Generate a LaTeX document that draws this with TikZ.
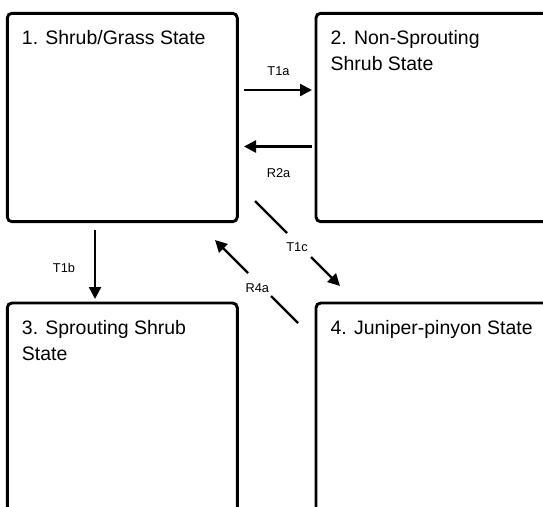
\documentclass[tikz,border=0pt]{standalone}
\usepackage{fontspec}
\setmainfont{Liberation Sans}
\usetikzlibrary{arrows.meta}
\begin{document}
\begin{tikzpicture}[x=0.75pt,y=-0.75pt,
  statebox/.style={draw=black, line width=2.2pt, rounded corners=3.5pt, anchor=north west, inner sep=0pt, outer sep=0pt},
  statetext/.style={anchor=base west, inner sep=0pt, align=left, font=\fontsize{14.6}{19.5}\selectfont},
  arr/.style={line width=1.8pt, -{Triangle[length=9pt,width=9pt]}},
  seg/.style={line width=1.8pt},
  lbl/.style={font=\fontsize{9.6}{11}\selectfont, inner sep=0pt}]
\useasboundingbox (0,0) rectangle (543,507);
\clip (0,0) rectangle (543,507);
% state boxes
\node[statebox, minimum width=172.5pt, minimum height=156.3pt] (b1) at (7.3,13.3) {};
\node[statebox, minimum width=183pt, minimum height=156.3pt] (b2) at (316,13.3) {};
\node[statebox, minimum width=172.5pt, minimum height=170pt] (b3) at (7.3,303) {};
\node[statebox, minimum width=183pt, minimum height=170pt] (b4) at (316,303) {};
% state titles (base anchor = last line)
\node[statetext] (s1) at (21.7,44.3) {1. Shrub/Grass State};
\node[statetext] (s2) at (330.4,70.3) {2. Non-Sprouting\\Shrub State};
\node[statetext] (s3) at (21.7,360) {3. Sprouting Shrub\\State};
\node[statetext] (s4) at (330.4,334) {4. Juniper-pinyon State};
% connector end points
\coordinate (t1as) at (244,90);   \coordinate (t1ae) at (312,90);
\coordinate (r2as) at (312,146.5); \coordinate (r2ae) at (244,146.5);
\coordinate (t1bs) at (95,230);   \coordinate (t1be) at (95,299);
\coordinate (t1cs) at (255,201);  \coordinate (t1cm) at (287,233);
\coordinate (t1cn) at (311,257);  \coordinate (t1ce) at (340,286);
\coordinate (r4as) at (298,323);  \coordinate (r4am) at (271,296);
\coordinate (r4an) at (248,273);  \coordinate (r4ae) at (215,240);
% connectors
\draw[arr] (t1as) -- (t1ae);
\draw[arr] (r2as) -- (r2ae);
\draw[arr] (t1bs) -- (t1be);
\draw[seg] (t1cs) -- (t1cm);
\draw[arr] (t1cn) -- (t1ce);
\draw[seg] (r4as) -- (r4am);
\draw[arr] (r4an) -- (r4ae);
% labels
\node[lbl] (lt1a) at (278.5,71.3) {T1a};
\node[lbl] (lr2a) at (278.5,173.5) {R2a};
\node[lbl] (lt1b) at (64,267.7) {T1b};
\node[lbl] (lt1c) at (297,247.3) {T1c};
\node[lbl] (lr4a) at (257.3,287.7) {R4a};
\end{tikzpicture}
\end{document}
